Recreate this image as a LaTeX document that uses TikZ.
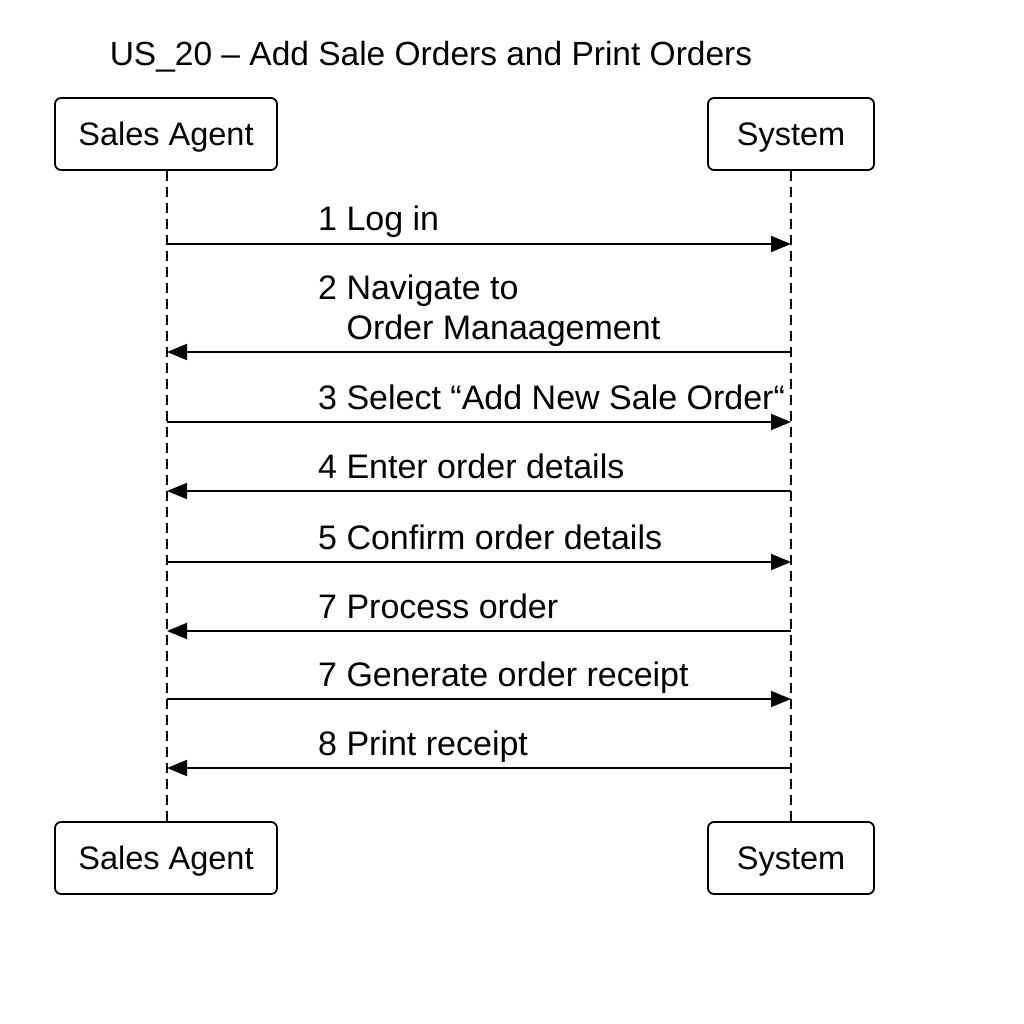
\documentclass[tikz,border=0pt]{standalone}
\usepackage{fontspec}
\setmainfont{Liberation Sans}
\usetikzlibrary{arrows.meta}
\begin{document}
\begin{tikzpicture}[x=1pt,y=-1pt,
  actor/.style={draw,line width=1.8pt,rounded corners=6pt,minimum height=72pt,inner sep=0pt,text height=23.3pt,text depth=0pt,font=\fontsize{32.5}{38}\selectfont},
  life/.style={line width=1.6pt,dash pattern=on 10pt off 6pt},
  msg/.style={line width=1.8pt,-{Triangle[length=20pt,width=16pt]}},
  lbl/.style={anchor=base west,inner sep=0pt,font=\fontsize{34}{40}\selectfont,align=left}]
\path[use as bounding box,fill=white] (0,0) rectangle (1024,1024);
\node[anchor=base,inner sep=0pt,font=\fontsize{33.5}{38}\selectfont] (title) at (431,66) {US\_20 – Add Sale Orders and Print Orders};
\node[actor,minimum width=222pt] (sa) at (166,134) {Sales Agent};
\node[actor,minimum width=166pt] (sy) at (791,134) {System};
\node[actor,minimum width=222pt] (sab) at (166,858) {Sales Agent};
\node[actor,minimum width=166pt] (syb) at (791,858) {System};
\draw[life] (sa.south -| 167,0) -- (sab.north -| 167,0);
\draw[life] (sy.south) -- (syb.north);
\foreach \i/\y in {1/244,2/352,3/422,4/491,5/562,6/631,7/699,8/768}{
  \coordinate (a\i) at (167,\y);
  \coordinate (s\i) at (791,\y);
}
\draw[msg] (a1) -- (s1);
\draw[msg] (s2) -- (a2);
\draw[msg] (a3) -- (s3);
\draw[msg] (s4) -- (a4);
\draw[msg] (a5) -- (s5);
\draw[msg] (s6) -- (a6);
\draw[msg] (a7) -- (s7);
\draw[msg] (s8) -- (a8);
\node[lbl] (l1) at (318,231) {1 Log in};
\node[lbl] (l2) at (318,339) {2 Navigate to\\\phantom{2 }Order Manaagement};
\node[lbl] (l3) at (318,409) {3 Select “Add New Sale Order“};
\node[lbl] (l4) at (318,478) {4 Enter order details};
\node[lbl] (l5) at (318,549) {5 Confirm order details};
\node[lbl] (l6) at (318,618) {7 Process order};
\node[lbl] (l7) at (318,686) {7 Generate order receipt};
\node[lbl] (l8) at (318,755) {8 Print receipt};
\end{tikzpicture}
\end{document}
